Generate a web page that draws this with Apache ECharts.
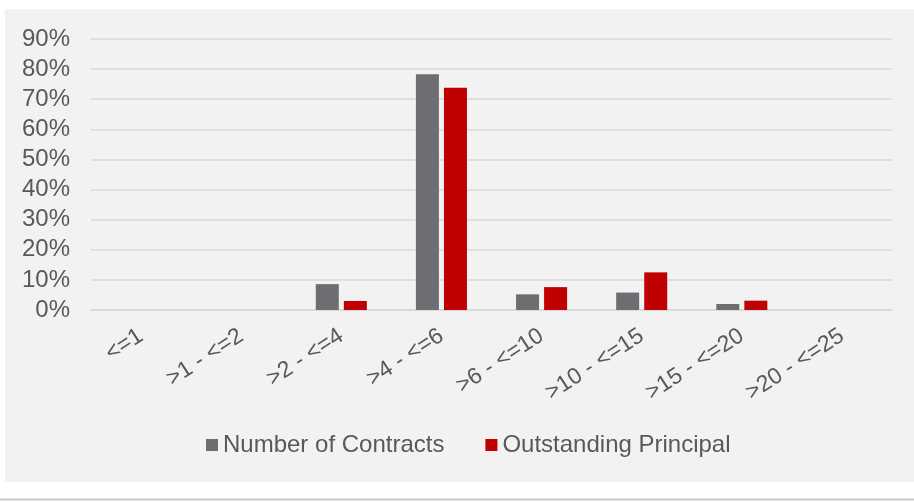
<!DOCTYPE html>
<html>
<head>
<meta charset="utf-8">
<script src="https://cdn.jsdelivr.net/npm/echarts@6/dist/echarts.min.js"></script>
<style>
  html, body { margin: 0; padding: 0; background: #ffffff; }
  #chart { width: 914px; height: 502px; }
</style>
</head>
<body>
<div id="chart"></div>
<script>
// Remaining-term buckets (years)
const categories = ['<=1', '>1 - <=2', '>2 - <=4', '>4 - <=6', '>6 - <=10', '>10 - <=15', '>15 - <=20', '>20 - <=25'];
// Share of pool, in percent
const contracts = [0, 0, 8.6, 78.3, 5.2, 5.8, 2.0, 0];
const principal = [0, 0, 3.0, 73.8, 7.6, 12.5, 3.1, 0];
const seriesNames = ['Number of Contracts', 'Outstanding Principal'];

const FONT = '"Liberation Sans", Arial, sans-serif';
const TEXT = '#595959';
const GRID = '#d9d9d9';

const chart = echarts.init(document.getElementById('chart'), null, { renderer: 'canvas' });

chart.setOption({
  animation: false,
  backgroundColor: '#ffffff',
  graphic: [
    { type: 'rect', z: -10, silent: true,
      shape: { x: 5, y: 9, width: 909, height: 473 },
      style: { fill: '#f2f2f2' } },
    { type: 'rect', z: -10, silent: true,
      shape: { x: 0, y: 498.5, width: 914, height: 2 },
      style: { fill: '#cacaca' } }
  ],
  grid: { left: 91, right: 22, top: 39, bottom: 192, containLabel: false },
  legend: {
    left: 206,
    top: 433,
    padding: 0,
    itemWidth: 12,
    itemHeight: 12,
    itemGap: 41,
    icon: 'rect',
    textStyle: { fontFamily: FONT, fontSize: 24, color: TEXT },
    data: seriesNames
  },
  xAxis: {
    type: 'category',
    data: categories,
    axisLine: { show: true, lineStyle: { color: GRID, width: 1.5 } },
    axisTick: { show: false },
    axisLabel: {
      interval: 0,
      rotate: 33,
      margin: 24,
      fontFamily: FONT,
      fontSize: 23,
      color: TEXT
    }
  },
  yAxis: {
    type: 'value',
    min: 0,
    max: 90,
    interval: 10,
    axisLine: { show: false },
    axisTick: { show: false },
    splitLine: { lineStyle: { color: GRID, width: 1.5 } },
    axisLabel: {
      formatter: '{value}%',
      margin: 21,
      fontFamily: FONT,
      fontSize: 24,
      color: TEXT
    }
  },
  series: [
    {
      name: seriesNames[0],
      type: 'bar',
      data: contracts,
      barWidth: 23,
      barGap: '22%',
      itemStyle: { color: '#6d6e71' }
    },
    {
      name: seriesNames[1],
      type: 'bar',
      data: principal,
      barWidth: 23,
      barGap: '22%',
      itemStyle: { color: '#c00000' }
    }
  ]
});
</script>
</body>
</html>
